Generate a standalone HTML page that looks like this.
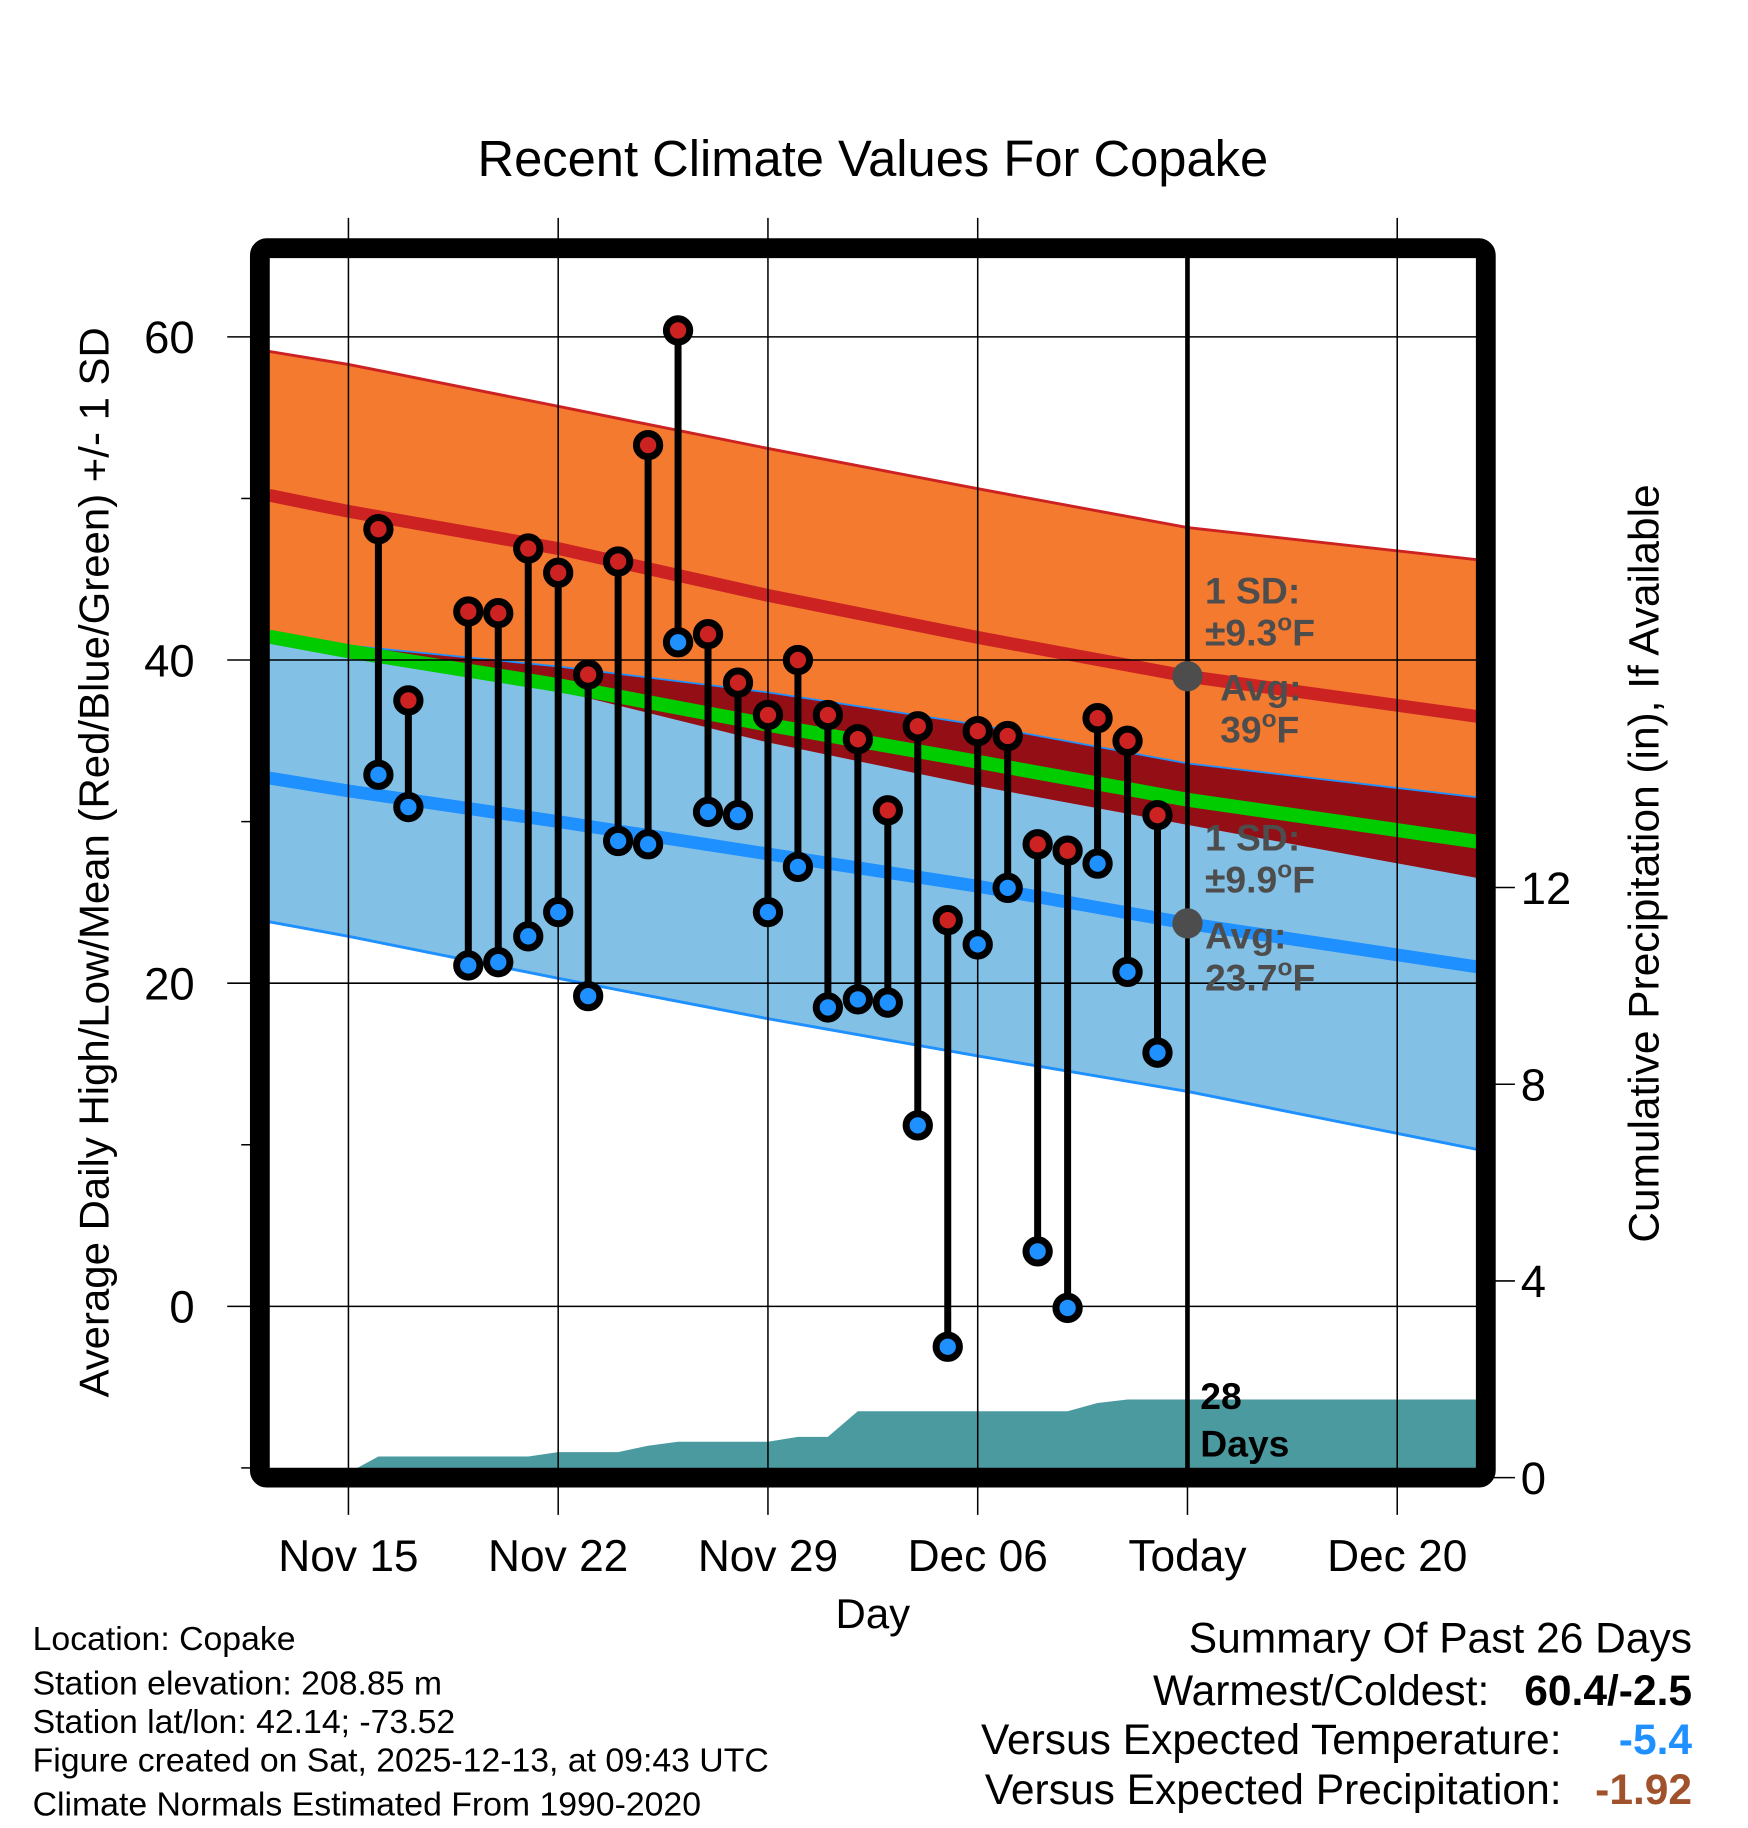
<!DOCTYPE html>
<html><head><meta charset="utf-8"><title>Recent Climate Values For Copake</title>
<style>
html,body{margin:0;padding:0;background:#fff;}
svg{display:block;font-family:"Liberation Sans",sans-serif;}
</style></head>
<body>
<svg id="chart" width="1748" height="1828" viewBox="0 0 1500 1568.65" xmlns="http://www.w3.org/2000/svg">
<g id="bands"></g>
<g id="grid"></g>
<g id="marks"></g>
<g id="frame"></g>
<g id="texts">
<text x="749" y="151" font-size="43.5" text-anchor="middle">Recent Climate Values For Copake</text>
<text x="749" y="1397" font-size="36" text-anchor="middle">Day</text>
<text transform="translate(93,740) rotate(-90)" font-size="36" text-anchor="middle">Average Daily High/Low/Mean (Red/Blue/Green) +/- 1 SD</text>
<text transform="translate(1423,741) rotate(-90)" font-size="36.4" text-anchor="middle">Cumulative Precipitation (in), If Available</text>
<g font-weight="bold" font-size="32" fill="#4d4d4d">
<text x="1034" y="518">1 SD:</text>
<text x="1034" y="554">±9.3<tspan font-size="21" dy="-13">o</tspan><tspan dy="13">F</tspan></text>
<text x="1047" y="601">Avg:</text>
<text x="1047" y="637">39<tspan font-size="21" dy="-13">o</tspan><tspan dy="13">F</tspan></text>
</g>
<g font-weight="bold" font-size="32" fill="#4d4d4d">
<text x="1034" y="730">1 SD:</text>
<text x="1034" y="766">±9.9<tspan font-size="21" dy="-13">o</tspan><tspan dy="13">F</tspan></text>
<text x="1034" y="814">Avg:</text>
<text x="1034" y="850">23.7<tspan font-size="21" dy="-13">o</tspan><tspan dy="13">F</tspan></text>
</g>
<text x="1030" y="1209" font-size="32" font-weight="bold">28</text>
<text x="1030" y="1250" font-size="32" font-weight="bold">Days</text>
<g font-size="29">
<text x="28" y="1416">Location: Copake</text>
<text x="28" y="1454">Station elevation: 208.85 m</text>
<text x="28" y="1487">Station lat/lon: 42.14; -73.52</text>
<text x="28" y="1520">Figure created on Sat, 2025-12-13, at 09:43 UTC</text>
<text x="28" y="1558">Climate Normals Estimated From 1990-2020</text>
</g>
<g font-size="36.5">
<text x="1452" y="1418" text-anchor="end">Summary Of Past 26 Days</text>
<text x="1278" y="1463" text-anchor="end">Warmest/Coldest:</text>
<text x="1452" y="1463" text-anchor="end" font-weight="bold">60.4/-2.5</text>
<text x="1340" y="1505" text-anchor="end">Versus Expected Temperature:</text>
<text x="1452" y="1505" text-anchor="end" font-weight="bold" fill="#1e90ff">-5.4</text>
<text x="1340" y="1548" text-anchor="end">Versus Expected Precipitation:</text>
<text x="1452" y="1548" text-anchor="end" font-weight="bold" fill="#a0522d">-1.92</text>
</g>
</g>
<script>
// ---- data ----
const normDays   = [-2.65, 0, 7, 14, 21, 28, 37.7];
const highUpper  = [59.1, 58.3, 55.7, 53.1, 50.6, 48.2, 46.2];
const highAvg    = [50.2, 49.2, 46.9, 44.0, 41.4, 39.0, 36.5];
const highLower  = [41.3, 40.1, 38.1, 34.9, 32.2, 29.8, 26.5];
const lowUpper   = [41.6, 40.9, 39.6, 38.0, 36.0, 33.6, 31.5];
const lowAvg     = [32.7, 31.9, 30.0, 28.0, 26.0, 23.7, 21.0];
const lowLower   = [23.8, 22.9, 20.3, 17.8, 15.5, 13.3, 9.7];
const obsDays    = [1,2,4,5,6,7,8,9,10,11,12,13,14,15,16,17,18,19,20,21,22,23,24,25,26,27];
const highs      = [48.1,37.5,43.0,42.9,46.9,45.4,39.1,46.1,53.3,60.4,41.6,38.6,36.6,40.0,36.6,35.1,30.7,35.9,23.9,35.6,35.3,28.6,28.2,36.4,35.0,30.4];
const lows       = [32.9,30.9,21.1,21.3,22.9,24.4,19.2,28.8,28.6,41.1,30.6,30.4,24.4,27.2,18.5,19.0,18.8,11.2,-2.5,22.4,25.9,3.4,-0.1,27.4,20.7,15.7];
const precipDays = [-0.25,0,1,2,3,4,5,6,7,8,9,10,11,12,13,14,15,16,17,18,19,20,21,22,23,24,25,26,27,28,37.7];
const precipCum  = [0,0.1,0.43,0.43,0.43,0.43,0.43,0.43,0.52,0.52,0.52,0.65,0.73,0.73,0.73,0.73,0.83,0.83,1.35,1.35,1.35,1.35,1.35,1.35,1.35,1.35,1.52,1.59,1.59,1.59,1.59];
const xTickDays  = [0,7,14,21,28,35];
const xTickLabels= ["Nov 15","Nov 22","Nov 29","Dec 06","Today","Dec 20"];
const yTicks     = [60,40,20,0];
const yMinor     = [50,30,10,-10];
const y2Ticks    = [12,8,4,0];
const todayDay   = 28;

// ---- axes ----
const X = d => 299 + d * 25.714;
const Y = v => 1121 - v * 13.865;
const Y2 = p => 1268 - p * 42.2;
const NS = "http://www.w3.org/2000/svg";
function mk(tag, attrs, parent){ const e=document.createElementNS(NS,tag); for(const k in attrs) e.setAttribute(k,attrs[k]); parent.appendChild(e); return e; }
const L=231,R=1268,T=221,B=1260;

const bands=document.getElementById('bands');
const clip=mk('clipPath',{id:'pc'},bands); mk('rect',{x:L,y:T,width:R-L,height:B-T},clip);
const gb=mk('g',{'clip-path':'url(#pc)'},bands);
function pts(arr){ return normDays.map((d,i)=>X(d).toFixed(1)+','+Y(arr[i]).toFixed(1)); }
function band(up,lo,fill,name){ const p=mk('polygon',{points:pts(up).concat(pts(lo).reverse()).join(' '),fill:fill},gb);
 
  }
function line(arr,color,w,name){ const p=mk('polyline',{points:pts(arr).join(' '),fill:'none',stroke:color,'stroke-width':w},gb);
 
  }
band(highUpper,highLower,'#f47a30','high-sd-band');
band(lowUpper,lowLower,'#83c0e6','low-sd-band');
const ovUp=normDays.map((d,i)=>Math.max(highLower[i],Math.min(lowUpper[i],highUpper[i])));
band(ovUp,highLower,'#930e15','overlap-band');
line(highUpper,'#cc2222',2.5,'high-upper-sd-line');
line(lowUpper,'#1e90ff',1.5,'low-upper-sd-line');
line(lowLower,'#1e90ff',2.5,'low-lower-sd-line');
line(highAvg,'#cc2222',11,'avg-high-line');
line(lowAvg,'#1e90ff',11,'avg-low-line');
line(normDays.map((d,i)=>(highAvg[i]+lowAvg[i])/2),'#00cc00',12,'mean-line');
const pp=precipDays.map((d,i)=>X(d).toFixed(1)+','+Y2(precipCum[i]).toFixed(1));
pp.push(X(37.7).toFixed(1)+','+Y2(0)); pp.unshift(X(-0.25).toFixed(1)+','+Y2(0));
const prec=mk('polygon',{points:pp.join(' '),fill:'#4a9aa0'},gb);



const grid=document.getElementById('grid');
xTickDays.forEach((d,i)=>{
 if(d!==todayDay){ const g=mk('line',{x1:X(d),x2:X(d),y1:187,y2:1300,stroke:'#000','stroke-width':1.3},grid);
  
   }
 else { const g=mk('line',{x1:X(d),x2:X(d),y1:1268,y2:1300,stroke:'#000','stroke-width':1.3},grid);
  
   }
 const t=mk('text',{x:X(d),y:1348,'font-size':38,'text-anchor':'middle'},grid); t.textContent=xTickLabels[i];
 
 
});
yTicks.forEach(v=>{
 const g=mk('line',{x1:195,x2:R,y1:Y(v),y2:Y(v),stroke:'#000','stroke-width':1.3},grid);
 
 
 const t=mk('text',{x:167,y:Y(v)+14,'font-size':39,'text-anchor':'end'},grid); t.textContent=v;
 
 
});
yMinor.forEach(v=>{
 const g=mk('line',{x1:207,x2:216,y1:Y(v),y2:Y(v),stroke:'#000','stroke-width':1.3},grid);
 
 
});
y2Ticks.forEach(p=>{
 const g=mk('line',{x1:1280,x2:1300,y1:Y2(p),y2:Y2(p),stroke:'#000','stroke-width':1.3},grid);
 
 
 const t=mk('text',{x:1305,y:Y2(p)+14,'font-size':39},grid); t.textContent=p;
 
 
});
const tl=mk('line',{x1:X(todayDay),x2:X(todayDay),y1:T,y2:B,stroke:'#000','stroke-width':4},grid);


[[39.0,'avg-high-marker'],[23.7,'avg-low-marker']].forEach(a=>{
 const c=mk('circle',{cx:X(todayDay),cy:Y(a[0]),r:13,fill:'#4d4d4d'},grid);
 
 
});

const marks=document.getElementById('marks');
obsDays.forEach((d,i)=>{
 const s=mk('line',{x1:X(d),x2:X(d),y1:Y(highs[i]),y2:Y(lows[i]),stroke:'#000','stroke-width':6},marks);
 
 
 const h=mk('circle',{cx:X(d),cy:Y(highs[i]),r:10,fill:'#cc2222',stroke:'#000','stroke-width':6},marks);
 
 
 const l=mk('circle',{cx:X(d),cy:Y(lows[i]),r:10,fill:'#1e90ff',stroke:'#000','stroke-width':6},marks);
 
 
});

const fr=mk('rect',{x:223,y:213,width:1052,height:1055,rx:6,fill:'none',stroke:'#000','stroke-width':17},document.getElementById('frame'));


</script>
</svg>
</body></html>
